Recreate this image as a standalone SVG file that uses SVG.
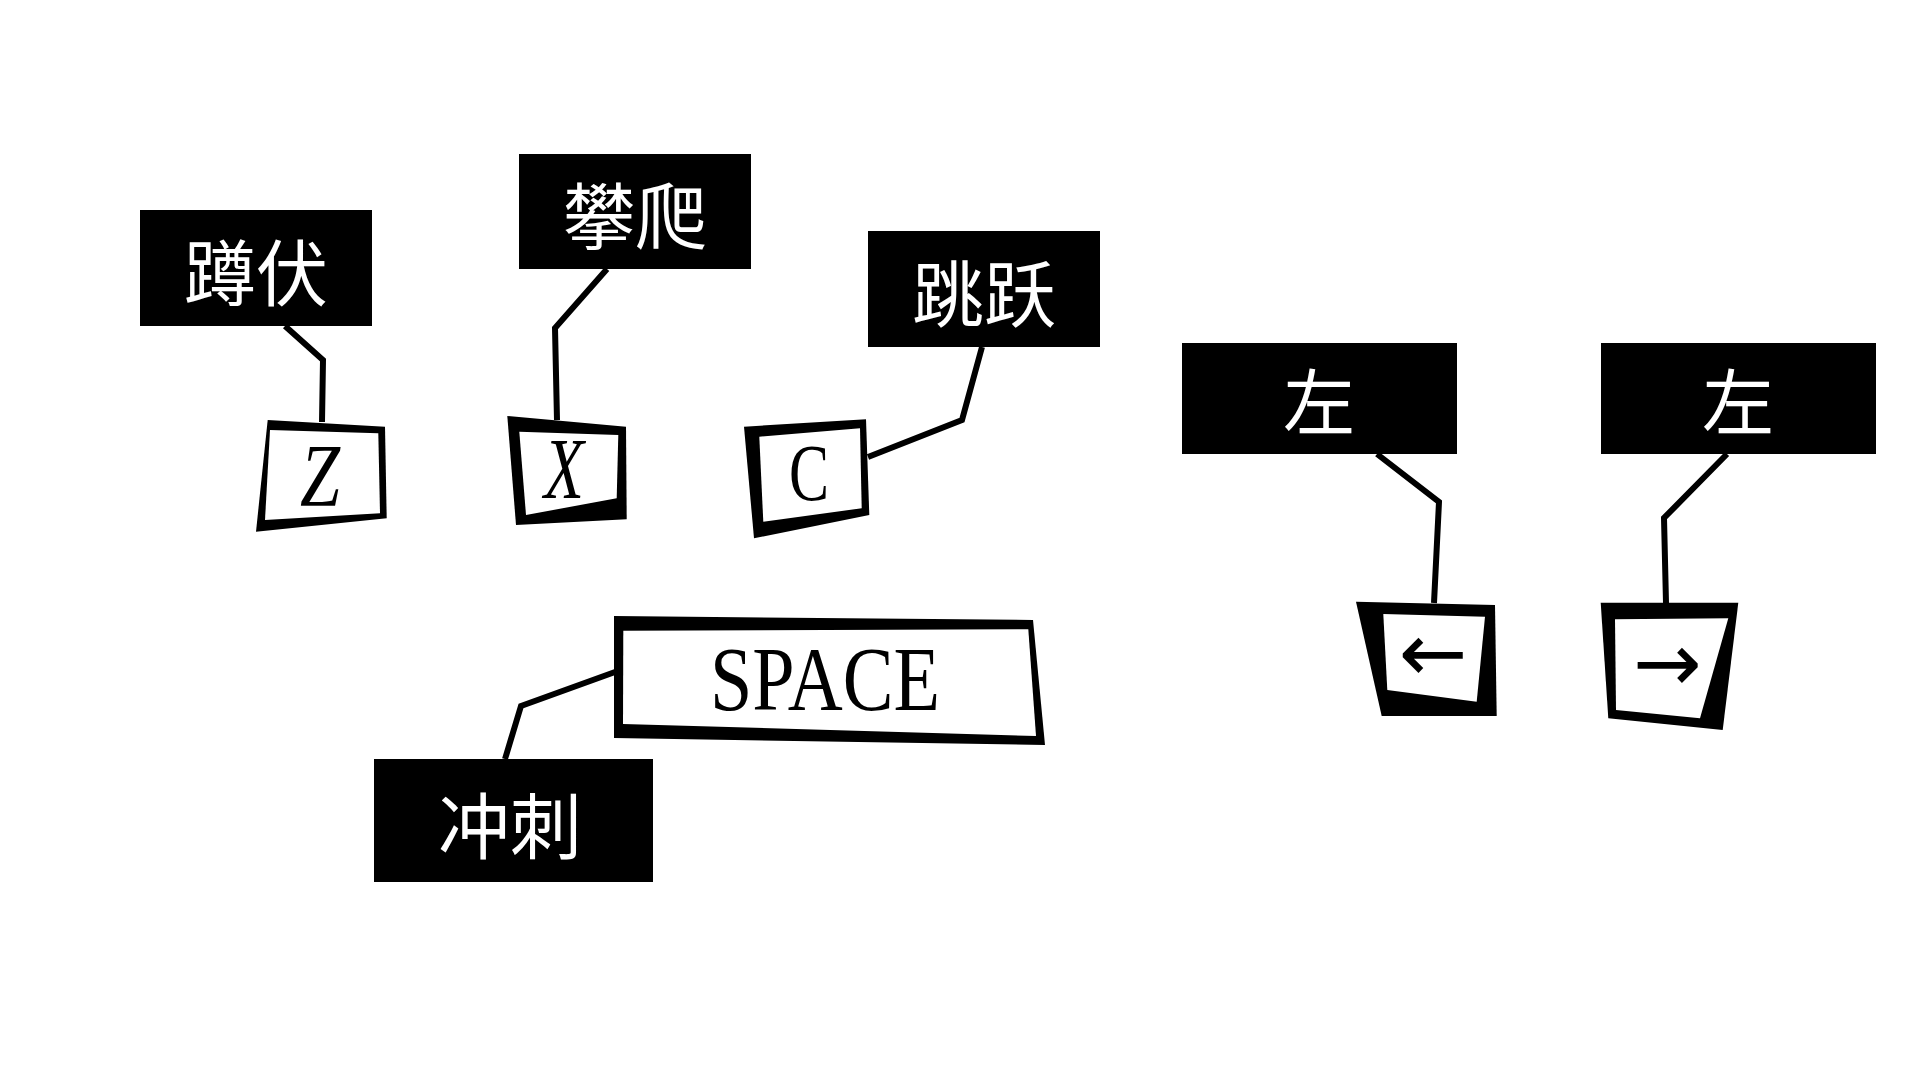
<svg xmlns="http://www.w3.org/2000/svg" width="1920" height="1080" viewBox="0 0 1920 1080">
<style>
.lbl{fill:#000}
.lt{fill:#fff;font-family:"Noto Sans CJK SC","Noto Sans",sans-serif;font-size:72px;text-anchor:middle;dominant-baseline:central}
.kt{fill:#000;font-family:"Liberation Serif","DejaVu Serif",serif;text-anchor:middle}
.at{fill:#000;font-family:"DejaVu Sans",sans-serif;font-size:82px;text-anchor:middle}
.conn{fill:none;stroke:#000;stroke-width:6;stroke-linejoin:miter}
.outer{fill:#000}
.inner{fill:#fff}
</style>
<rect width="1920" height="1080" fill="#fff"/>
<g id="connectors">
<polyline class="conn" points="285,326 323,360 322,422"/>
<polyline class="conn" points="607,269 555,328 557,420"/>
<polyline class="conn" points="982,347 962,420 868,457"/>
<polyline class="conn" points="505,759 521,706 615,672"/>
<polyline class="conn" points="1377,454 1439,502 1434,603"/>
<polyline class="conn" points="1727,454 1664,518 1666,603"/>
</g>
<g id="label-crouch">
<rect class="lbl" x="140" y="210" width="232" height="116"/>
<text class="lt" x="256" y="268">蹲伏</text>
</g>
<g id="key-z">
<polygon class="outer" points="267.7,420 385,426.7 386.7,518.3 256,531.7"/>
<polygon class="inner" points="270,430 378.3,433.3 380,513.3 265,520"/>
<text class="kt" x="320" y="505" font-size="88" font-style="italic" textLength="40" lengthAdjust="spacingAndGlyphs">Z</text>
</g>
<g id="label-climb">
<rect class="lbl" x="519" y="154" width="232" height="115"/>
<text class="lt" x="635" y="211">攀爬</text>
</g>
<g id="key-x">
<polygon class="outer" points="507.3,416 626,426.7 626.7,519.3 516,525"/>
<polygon class="inner" points="519.3,431.7 618.3,435 616.7,498.3 526,515"/>
<text class="kt" x="564" y="498" font-size="86" font-style="italic" textLength="40" lengthAdjust="spacingAndGlyphs">X</text>
</g>
<g id="label-jump">
<rect class="lbl" x="868" y="231" width="232" height="116"/>
<text class="lt" x="984" y="289">跳跃</text>
</g>
<g id="key-c">
<polygon class="outer" points="744,426.7 866,419.3 869.3,515 754,538.3"/>
<polygon class="inner" points="759.3,436.7 860,428.3 861.7,508.3 763.3,521.7"/>
<text class="kt" x="809" y="500" font-size="80" textLength="40" lengthAdjust="spacingAndGlyphs">C</text>
</g>
<g id="label-dash">
<rect class="lbl" x="374" y="759" width="279" height="123"/>
<text class="lt" x="510" y="821">冲刺</text>
</g>
<g id="key-space">
<polygon class="outer" points="614,616 1033,620 1045,745 614,738"/>
<polygon class="inner" points="623.3,630.7 1028.3,629.3 1036,736 623,724"/>
<text class="kt" x="825" y="710" font-size="90" textLength="230" lengthAdjust="spacingAndGlyphs">SPACE</text>
</g>
<g id="label-left">
<rect class="lbl" x="1182" y="343" width="275" height="111"/>
<text class="lt" x="1319" y="397">左</text>
</g>
<g id="key-left">
<polygon class="outer" points="1356,601.7 1495,605 1496.7,716 1381.7,716"/>
<polygon class="inner" points="1383.3,614 1485,616.7 1476.7,701.7 1387.3,690"/>
<text class="at" x="1433" y="681">←</text>
</g>
<g id="label-right">
<rect class="lbl" x="1601" y="343" width="275" height="111"/>
<text class="lt" x="1738" y="397">左</text>
</g>
<g id="key-right">
<polygon class="outer" points="1600.7,602.7 1738.3,602.7 1722.7,730 1608.3,718.3"/>
<polygon class="inner" points="1615,619.3 1728.3,618.3 1700,718.3 1616,710"/>
<text class="at" x="1667" y="691">→</text>
</g>
</svg>
